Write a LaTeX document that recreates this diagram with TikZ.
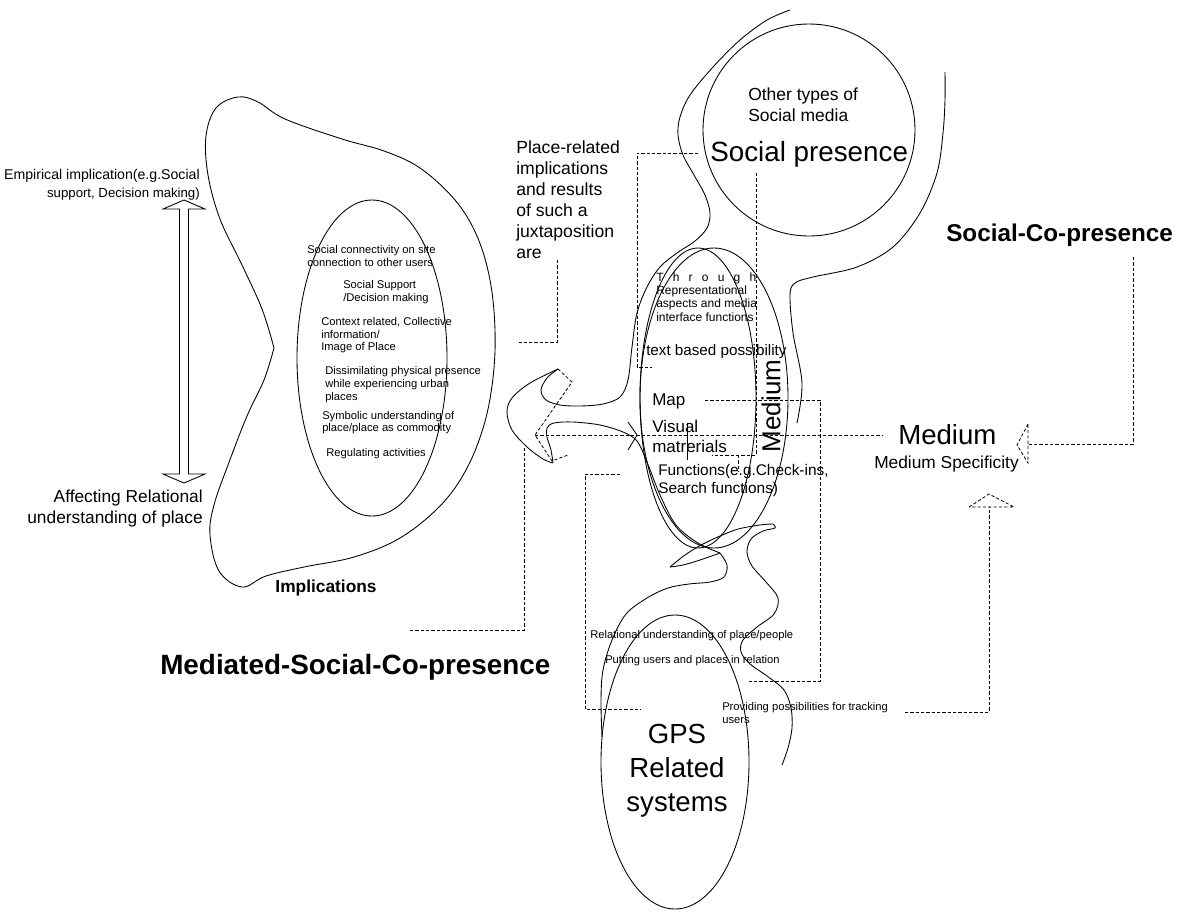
\documentclass[tikz,border=0pt]{standalone}
\usepackage{fontspec}
\setmainfont{Liberation Sans}
\newcommand\txtsize[2]{\fontsize{#1pt}{#2pt}\selectfont}
\begin{document}
\begin{tikzpicture}[x=0.75pt,y=-0.75pt,
  outline/.style={draw=black,line width=0.65pt},
  link/.style={draw=black,line width=0.6pt,dash pattern=on 2.4pt off 1.6pt},
  lbl/.style={inner sep=0pt,anchor=base west},
  lblr/.style={inner sep=0pt,anchor=base east},
  lblc/.style={inner sep=0pt,anchor=base},
  small/.style={lbl,font=\txtsize{8.4}{9.75}},
]
\fill[white] (0,0) rectangle (1178,911);
\useasboundingbox (0,0) rectangle (1178,911);

% ---------- left: implications ----------
\node[lblr,font=\txtsize{10.6}{13}] (emp1) at (200,179.6) {Empirical implication(e.g.Social};
\node[lblr,font=\txtsize{9.9}{13}] (emp2) at (200,197.6) {support, Decision making)};
\node[lblr,font=\txtsize{13}{15.75}] (aff1) at (203,502.7) {Affecting Relational};
\node[lblr,font=\txtsize{13}{15.75}] (aff2) at (203,523.7) {understanding of place};

% hollow double arrow
\draw[outline] (184,200) -- (205,209) -- (188.5,209) -- (188.5,474) -- (205,474)
  -- (184,483) -- (163,474) -- (179.5,474) -- (179.5,209) -- (163,209) -- cycle;

% outer blob with notch
\draw[outline] plot[smooth,tension=0.6] coordinates {(274,348) (264,380) (247,416)
  (228,465) (214,505) (210,535) (219,571) (242,587) (266,576) (304,567) (354,557)
  (400,538) (440,506) (466,470) (484,425) (493,378) (495,330) (490,280) (477,236)
  (455,200) (420,168) (384,151) (342,139) (285,119) (258,102) (238,97) (216,108)
  (206,136) (208,175) (220,219) (242,265) (262,309) (274,348)};
\draw[outline] (372,358) ellipse [x radius=75, y radius=158];

\node[small] (in1a) at (307,253.7) {Social connectivity on site};
\node[small] (in1b) at (307,266.7) {connection to other users};
\node[small] (in2a) at (343,288.7) {Social Support};
\node[small] (in2b) at (343,301.7) {/Decision making};
\node[small] (in3a) at (321,325.7) {Context related, Collective};
\node[small] (in3b) at (321,338.2) {information/};
\node[small] (in3c) at (321,350.7) {Image of Place};
\node[small] (in4a) at (325,374.7) {Dissimilating physical presence};
\node[small] (in4b) at (325,387.7) {while experiencing urban};
\node[small] (in4c) at (325,400.7) {places};
\node[small] (in5a) at (322,419.7) {Symbolic understanding of};
\node[small] (in5b) at (322,431.7) {place/place as commodity};
\node[small] (in6) at (326,456.7) {Regulating activities};

\node[lblc,font=\bfseries\txtsize{13}{15}] (impl) at (326,592.7) {Implications};
\node[lbl,font=\bfseries\txtsize{20.9}{24}] (medsoc) at (160,674.5) {Mediated-Social-Co-presence};

% ---------- centre ----------
\node[lbl,font=\txtsize{13.2}{15.75}] (pr1) at (516,153.8) {Place-related};
\node[lbl,font=\txtsize{13.2}{15.75}] (pr2) at (516,174.8) {implications};
\node[lbl,font=\txtsize{13.2}{15.75}] (pr3) at (516,195.8) {and results};
\node[lbl,font=\txtsize{13.2}{15.75}] (pr4) at (516,216.8) {of such a};
\node[lbl,font=\txtsize{13.2}{15.75}] (pr5) at (516,237.8) {juxtaposition};
\node[lbl,font=\txtsize{13.2}{15.75}] (pr6) at (516,258.8) {are};

% social presence circle and enclosing outline
\draw[outline] (809,130) circle [radius=106];
\node[lbl,font=\txtsize{13.1}{15.75}] (ot1) at (748,100.8) {Other types of};
\node[lbl,font=\txtsize{13.1}{15.75}] (ot2) at (748,121.8) {Social media};
\node[lbl,font=\txtsize{20.85}{24}] (sp) at (710,161.2) {Social presence};

\draw[outline] plot[smooth,tension=0.55] coordinates {(790,10) (767,20) (740,40) (713,67)
  (690,95) (680,117) (678,135) (683,155) (694,175) (705,195) (710,213) (707,228)
  (695,241) (677,253) (660,267) (647,287) (637,313) (632,347) (628,380) (620,397)
  (603,404) (580,406) (560,405) (546,400) (541,390) (547,378) (558,369)};
\draw[outline] plot[smooth,tension=0.55] coordinates {(558,369) (530,383) (512,398)
  (507,412) (512,430) (527,447) (543,459) (553,463)};
\draw[outline] plot[smooth,tension=0.55] coordinates {(553,463) (551,450) (547,437)
  (547,428) (554,423) (573,422) (600,425) (623,432) (637,441) (647,462) (660,495)
  (676,525) (698,543) (720,553)};
\draw[outline] plot[smooth,tension=0.55] coordinates {(720,553) (727,565) (724,577)
  (710,582) (689,584) (668,588) (647,598) (626,614) (612,640) (603,670) (601,700) (602,737)};
\draw[outline] plot[smooth,tension=0.5] coordinates {(720,553) (700,560) (683,565) (670,567)};
\draw[outline] plot[smooth,tension=0.55] coordinates {(670,567) (685,555) (705,543)
  (735,530) (760,525) (773,524)};
\draw[outline] plot[smooth,tension=0.55] coordinates {(773,524) (775,528) (763,531)
  (751,539) (747,552) (752,566) (766,582) (778,598) (774,614) (757,627) (743,640)
  (741,652) (750,664) (767,676) (784,690) (791,708) (792,728) (788,748) (782,765)};
\draw[outline] plot[smooth,tension=0.55] coordinates {(945,72) (945,100) (943,133)
  (937,173) (920,213) (893,247) (857,267) (813,277) (795,283) (790,295) (793,333)
  (802,383) (797,423)};

% medium ovals
\draw[outline] (698,398) ellipse [x radius=58, y radius=150];
\draw[outline] (714,398) ellipse [x radius=74, y radius=150];
\node[inner sep=0pt,rotate=90,font=\txtsize{19.5}{22}] (medv) at (771,406) {Medium};

\node[lbl,font=\txtsize{9}{10}] (th1) at (656,281) {\makebox[75pt][s]{T\hfill h\hfill r\hfill o\hfill u\hfill g\hfill h}};
\node[lbl,font=\txtsize{9}{10}] (th2) at (656,294) {Representational};
\node[lbl,font=\txtsize{9}{10}] (th3) at (656,307) {aspects and media};
\node[lbl,font=\txtsize{9}{10}] (th4) at (656,321) {interface functions};
\node[lbl,font=\txtsize{11.4}{13}] (txt) at (646,355) {text based possibility};
\node[lbl,font=\txtsize{12.75}{15}] (map) at (652,405.6) {Map};
\node[lbl,font=\txtsize{12.75}{15}] (vis1) at (652,432.6) {Visual};
\node[lbl,font=\txtsize{12.75}{15}] (vis2) at (652,452.6) {matrerials};
\node[lbl,font=\txtsize{11.55}{13.5}] (fn1) at (658,475.1) {Functions(e.g.Check-ins,};
\node[lbl,font=\txtsize{11.55}{13.5}] (fn2) at (658,493.1) {Search functions)};
\draw[outline] (687,423) -- (687,460);

% GPS
\draw[outline] (675,762) ellipse [x radius=74, y radius=147];
\node[lblc,font=\txtsize{20.7}{25.5}] (gps1) at (677,743) {GPS};
\node[lblc,font=\txtsize{20.7}{25.5}] (gps2) at (677,777) {Related};
\node[lblc,font=\txtsize{20.7}{25.5}] (gps3) at (677,811) {systems};
\node[small] (rel) at (590,638.7) {Relational understanding of place/people};
\node[small] (put) at (605,663.7) {Putting users and places in relation};
\node[small] (prv1) at (722,710.7) {Providing possibilities for tracking};
\node[small] (prv2) at (722,723.7) {users};

% ---------- right ----------
\node[lbl,font=\bfseries\txtsize{18.2}{21}] (scp) at (946,241) {Social-Co-presence};
\node[lbl,font=\txtsize{20.7}{24}] (med) at (898,444.1) {Medium};
\node[lbl,font=\txtsize{13}{15}] (medspec) at (874,468.7) {Medium Specificity};

% ---------- dashed connectors ----------
\coordinate (pr-a) at (557,260); \coordinate (pr-b) at (557,342); \coordinate (pr-c) at (519,342);
\draw[link] (pr-a) -- (pr-b) -- (pr-c);
\coordinate (th-a) at (698,153); \coordinate (th-b) at (637,153);
\coordinate (th-c) at (637,367); \coordinate (th-d) at (652,367);
\draw[link] (th-a) -- (th-b) -- (th-c) -- (th-d);
\coordinate (sp-a) at (756,173); \coordinate (sp-b) at (756,455); \coordinate (sp-c) at (712,455);
\draw[link] (sp-a) -- (sp-b) -- (sp-c);
\draw[link] (738,455) -- (738,472);
\coordinate (mp-a) at (705,400); \coordinate (mp-b) at (820,400);
\coordinate (mp-c) at (820,681); \coordinate (mp-d) at (748,681);
\draw[link] (mp-a) -- (mp-b) -- (mp-c) -- (mp-d);
\coordinate (fn-a) at (620,474); \coordinate (fn-b) at (585,474);
\coordinate (fn-c) at (585,709); \coordinate (fn-d) at (641,709);
\draw[link] (fn-a) -- (fn-b) -- (fn-c) -- (fn-d);
\coordinate (ms-a) at (410,630); \coordinate (ms-b) at (524,630); \coordinate (ms-c) at (524,448);
\draw[link] (ms-a) -- (ms-b) -- (ms-c);

% main horizontal link with its arrowheads
\coordinate (hz-a) at (535,435); \coordinate (hz-b) at (882,435);
\draw[link] (hz-a) -- (hz-b);
\draw[link] (558,369) -- (572,382) -- (hz-a) -- (552,461) -- (568,455);
\draw[outline] (628,422) -- (637,435) -- (628,450);

% arrow from Social-Co-presence to Medium
\coordinate (sc-a) at (1133,257); \coordinate (sc-b) at (1133,444); \coordinate (sc-c) at (1028,444);
\draw[link] (sc-a) -- (sc-b) -- (sc-c);
\draw[link] (1028,424) -- (1017,445) -- (1028,463) -- cycle;

% arrow from tracking to Medium
\coordinate (tr-a) at (905,712); \coordinate (tr-b) at (989,712); \coordinate (tr-c) at (989,507);
\draw[link] (tr-a) -- (tr-b) -- (tr-c);
\draw[link] (969,507) -- (989,494) -- (1014,507) -- cycle;
\end{tikzpicture}
\end{document}
